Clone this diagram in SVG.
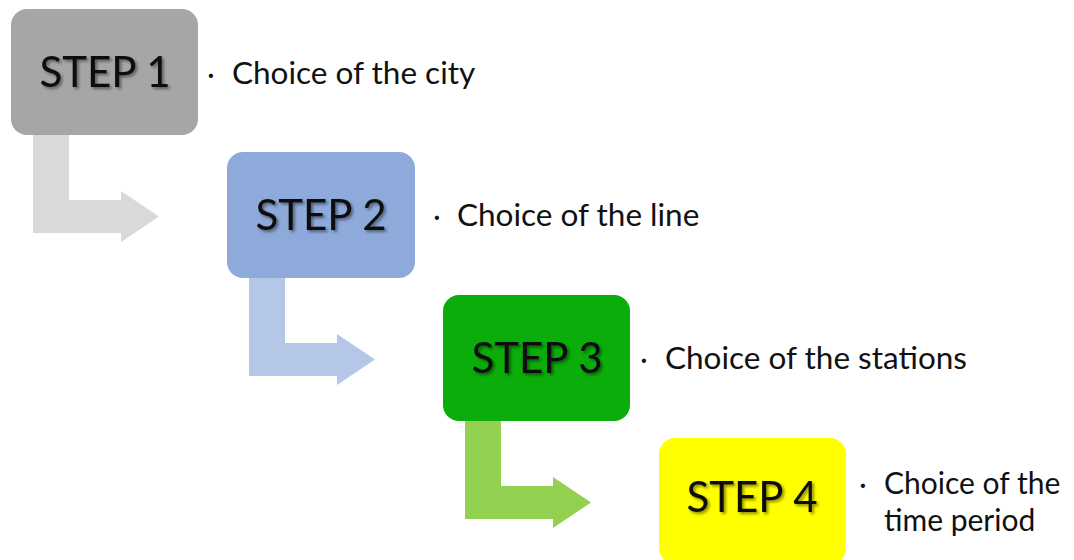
<svg xmlns="http://www.w3.org/2000/svg" width="1074" height="560" viewBox="0 0 1074 560">
  <defs>
    <filter id="txtShadow" x="-10%" y="-20%" width="130%" height="150%">
      <feDropShadow dx="2" dy="2" stdDeviation="1.4" flood-color="#000" flood-opacity="0.45"/>
    </filter>
  </defs>
  <style>
    .box { rx: 16px; ry: 16px; }
    .step { font-family: Lato, "Liberation Sans", sans-serif; font-size: 42px; fill: #111; text-anchor: middle; filter: url(#txtShadow); }
    .label { font-family: Lato, "Liberation Sans", sans-serif; font-size: 31.5px; fill: #111; }
    .label.two { font-size: 30px; }
    .dot { font-family: Lato, "Liberation Sans", sans-serif; font-size: 28px; fill: #111; text-anchor: middle; }
  </style>
  <rect width="1074" height="560" fill="#ffffff"/>

  <g id="connectors">
    <path d="M33 135 H69 V200 H121 V191 L159 216.5 L121 242 V233 H33 Z" fill="#d9d9d9"/>
    <path d="M249 278 H285 V343 H337 V334 L375 359.5 L337 385 V376 H249 Z" fill="#b4c7e7"/>
    <path d="M465 421 H501 V486 H553 V477 L591 502.5 L553 528 V519 H465 Z" fill="#92d050"/>
  </g>

  <g id="step1">
    <rect class="box" x="11" y="9" width="187" height="126" fill="#a6a6a6"/>
    <text class="step" x="105" y="87">STEP 1</text>
    <text class="dot" x="211" y="84">·</text>
    <text class="label" x="232" y="84">Choice of the city</text>
  </g>

  <g id="step2">
    <rect class="box" x="227" y="152" width="188" height="126" fill="#8eaadb"/>
    <text class="step" x="321" y="230">STEP 2</text>
    <text class="dot" x="437" y="226">·</text>
    <text class="label" x="457" y="226">Choice of the line</text>
  </g>

  <g id="step3">
    <rect class="box" x="443" y="295" width="187" height="126" fill="#0aad0a"/>
    <text class="step" x="537" y="373">STEP 3</text>
    <text class="dot" x="644" y="369">·</text>
    <text class="label" x="665" y="369">Choice of the stations</text>
  </g>

  <g id="step4">
    <rect class="box" x="659" y="438" width="187" height="126" fill="#ffff00"/>
    <text class="step" x="752" y="512">STEP 4</text>
    <text class="dot" x="863" y="494">·</text>
    <text class="label two" x="884" y="494">Choice of the</text>
    <text class="label two" x="884" y="531">time period</text>
  </g>
</svg>
